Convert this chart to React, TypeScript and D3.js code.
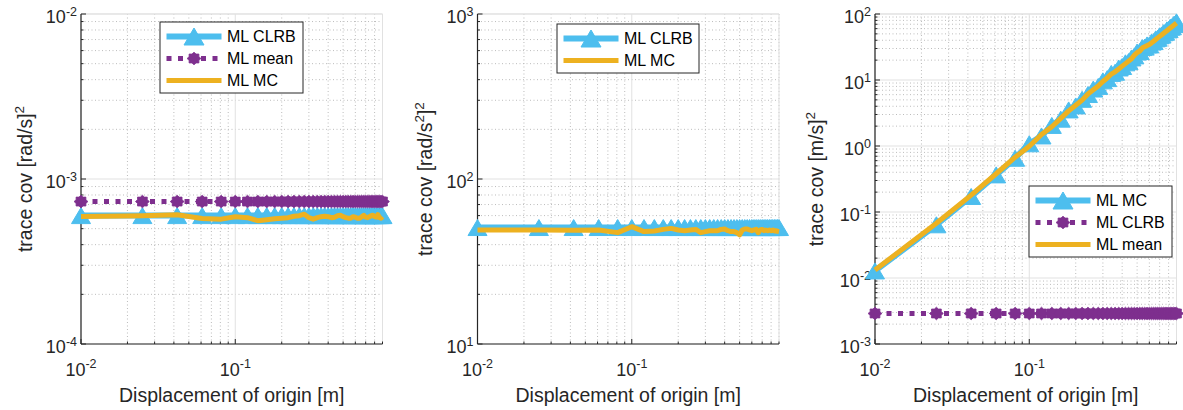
import React from 'react';
import * as d3 from 'd3';

// ---------- data ----------
const xVals = [0.01, 0.025, 0.042, 0.061, 0.081, 0.1, 0.12, 0.14, 0.16, 0.18, 0.2, 0.22, 0.24, 0.26, 0.28, 0.3, 0.32, 0.34, 0.36, 0.38, 0.4, 0.42, 0.44, 0.46, 0.48, 0.5, 0.52, 0.54, 0.56, 0.58, 0.6, 0.62, 0.64, 0.66, 0.68, 0.7, 0.72, 0.74, 0.76, 0.78, 0.8, 0.82, 0.84, 0.86, 0.88, 0.9];

const p1Clrb = [6.0e-4, 6.0e-4, 6.0e-4, 6.0e-4, 6.0e-4, 6.0e-4, 6.0e-4, 6.0e-4, 6.0e-4, 6.0e-4, 6.0e-4, 6.0e-4, 6.0e-4, 6.0e-4, 6.0e-4, 6.0e-4, 6.0e-4, 6.0e-4, 6.0e-4, 6.0e-4, 6.0e-4, 6.0e-4, 6.0e-4, 6.0e-4, 6.0e-4, 6.0e-4, 6.0e-4, 6.0e-4, 6.0e-4, 6.0e-4, 6.0e-4, 6.0e-4, 6.0e-4, 6.0e-4, 6.0e-4, 6.0e-4, 6.0e-4, 6.0e-4, 6.0e-4, 6.0e-4, 6.0e-4, 6.0e-4, 6.0e-4, 6.0e-4, 6.0e-4, 6.0e-4];
const p1Mean = [7.3e-4, 7.3e-4, 7.3e-4, 7.3e-4, 7.3e-4, 7.3e-4, 7.3e-4, 7.3e-4, 7.3e-4, 7.3e-4, 7.3e-4, 7.3e-4, 7.3e-4, 7.3e-4, 7.3e-4, 7.3e-4, 7.3e-4, 7.3e-4, 7.3e-4, 7.3e-4, 7.3e-4, 7.3e-4, 7.3e-4, 7.3e-4, 7.3e-4, 7.3e-4, 7.3e-4, 7.3e-4, 7.3e-4, 7.3e-4, 7.3e-4, 7.3e-4, 7.3e-4, 7.3e-4, 7.3e-4, 7.3e-4, 7.3e-4, 7.3e-4, 7.3e-4, 7.3e-4, 7.3e-4, 7.3e-4, 7.3e-4, 7.3e-4, 7.3e-4, 7.3e-4];
const p1Mc = [5.93e-4, 5.99e-4, 6.08e-4, 5.77e-4, 5.71e-4, 5.91e-4, 5.83e-4, 5.59e-4, 5.67e-4, 5.75e-4, 5.79e-4, 5.83e-4, 5.95e-4, 5.99e-4, 6.12e-4, 5.83e-4, 5.71e-4, 5.83e-4, 5.91e-4, 5.95e-4, 5.91e-4, 5.83e-4, 5.87e-4, 5.99e-4, 6.03e-4, 5.91e-4, 5.83e-4, 5.79e-4, 5.79e-4, 5.91e-4, 5.87e-4, 5.79e-4, 5.79e-4, 5.91e-4, 6.03e-4, 5.87e-4, 5.83e-4, 5.91e-4, 5.99e-4, 6.03e-4, 5.91e-4, 5.87e-4, 6.08e-4, 5.83e-4, 5.79e-4, 5.91e-4];

const p2Clrb = [50.8, 50.8, 50.8, 50.8, 50.8, 50.8, 50.8, 50.8, 50.8, 50.8, 50.8, 50.8, 50.8, 50.8, 50.8, 50.8, 50.8, 50.8, 50.8, 50.8, 50.8, 50.8, 50.8, 50.8, 50.8, 50.8, 50.8, 50.8, 50.8, 50.8, 50.8, 50.8, 50.8, 50.8, 50.8, 50.8, 50.8, 50.8, 50.8, 50.8, 50.8, 50.8, 50.8, 50.8, 50.8, 50.8];
const p2Mc = [49.1, 49.1, 48.9, 49.1, 47.3, 51.4, 48.0, 48.4, 49.5, 50.2, 49.1, 48.6, 49.1, 49.5, 47.3, 48.0, 48.6, 48.6, 48.6, 49.5, 49.8, 48.6, 48.0, 48.0, 47.3, 45.8, 49.1, 49.8, 49.8, 49.1, 48.6, 49.1, 49.5, 47.3, 49.1, 49.5, 48.6, 49.1, 48.6, 49.1, 48.6, 49.1, 48.4, 48.6, 48.2, 48.0];

const p3Mc = [0.0128, 0.064, 0.172, 0.365, 0.652, 1.08, 1.42, 2.05, 2.55, 3.52, 4.05, 5.1, 6.02, 7.3, 8.0, 9.7, 10.5, 12.6, 13.1, 15.2, 16.0, 18.2, 19.0, 21.6, 23.2, 26.5, 27.0, 31.0, 31.5, 34.0, 34.0, 37.5, 38.2, 42.0, 43.0, 46.8, 48.0, 52.0, 53.0, 57.5, 58.0, 63.0, 64.0, 69.0, 70.5, 76.0];
const p3Clrb = [0.0029, 0.0029, 0.0029, 0.0029, 0.0029, 0.0029, 0.0029, 0.0029, 0.0029, 0.0029, 0.0029, 0.0029, 0.0029, 0.0029, 0.0029, 0.0029, 0.0029, 0.0029, 0.0029, 0.0029, 0.0029, 0.0029, 0.0029, 0.0029, 0.0029, 0.0029, 0.0029, 0.0029, 0.0029, 0.0029, 0.0029, 0.0029, 0.0029, 0.0029, 0.0029, 0.0029, 0.0029, 0.0029, 0.0029, 0.0029, 0.0029, 0.0029, 0.0029, 0.0029, 0.0029, 0.0029];
const p3Mean = [0.0132, 0.0676, 0.18, 0.38, 0.676, 0.989, 1.49, 1.96, 2.62, 3.4, 4.14, 4.95, 6.15, 7.09, 8.1, 9.48, 10.7, 12.3, 13.3, 14.7, 16.2, 17.7, 19.3, 21.0, 23.8, 26.0, 27.5, 30.5, 32.0, 33.2, 34.5, 36.5, 38.7, 41.0, 43.4, 45.8, 48.2, 50.7, 53.3, 55.9, 58.6, 61.4, 64.2, 67.1, 70.0, 73.0];

const xDomain = [0.01, 0.9];
const p1YDomain = [1e-4, 1e-2];
const p2YDomain = [1e1, 1e3];
const p3YDomain = [1e-3, 1e2];

const p1Names = ['ML CLRB', 'ML mean', 'ML MC'];
const p2Names = ['ML CLRB', 'ML MC'];
const p3Names = ['ML MC', 'ML CLRB', 'ML mean'];

const xLabel = 'Displacement of origin [m]';
const p1YLabel: [string, boolean][] = [['trace cov [rad/s]', false], ['2', true]];
const p2YLabel: [string, boolean][] = [['trace cov [rad/s', false], ['2', true], [']', false], ['2', true]];
const p3YLabel: [string, boolean][] = [['trace cov [m/s]', false], ['2', true]];

// ---------- styles ----------
const BLUE = '#4DBEEE';
const PURPLE = '#7E2F8E';
const YELLOW = '#EDB120';
const AXIS = '#262626';
const FONT = '"Liberation Sans", Arial, Helvetica, sans-serif';

const TOP = 14;
const BOTTOM = 344;
const W = 301.5;

type Kind = 'tri' | 'star' | 'solid';
type Series = { name: string; values: number[]; kind: Kind };
type Cfg = {
  left: number;
  yDomain: number[];
  yLabel: [string, boolean][];
  yLabelX: number;
  legend: { x: number; y: number; w: number };
  series: Series[];
};

const panels: Cfg[] = [
  {
    left: 81,
    yDomain: p1YDomain,
    yLabel: p1YLabel,
    yLabelX: 32,
    legend: { x: 160, y: 22, w: 143 },
    series: [
      { name: p1Names[0], values: p1Clrb, kind: 'tri' },
      { name: p1Names[1], values: p1Mean, kind: 'star' },
      { name: p1Names[2], values: p1Mc, kind: 'solid' },
    ],
  },
  {
    left: 477.5,
    yDomain: p2YDomain,
    yLabel: p2YLabel,
    yLabelX: 432,
    legend: { x: 557, y: 24, w: 142 },
    series: [
      { name: p2Names[0], values: p2Clrb, kind: 'tri' },
      { name: p2Names[1], values: p2Mc, kind: 'solid' },
    ],
  },
  {
    left: 875,
    yDomain: p3YDomain,
    yLabel: p3YLabel,
    yLabelX: 823,
    legend: { x: 1029, y: 186, w: 143 },
    series: [
      { name: p3Names[0], values: p3Mc, kind: 'tri' },
      { name: p3Names[1], values: p3Clrb, kind: 'star' },
      { name: p3Names[2], values: p3Mean, kind: 'solid' },
    ],
  },
];

const isMajor = (t: number) => Math.abs(Math.log10(t) - Math.round(Math.log10(t))) < 1e-9;

function triPath(cx: number, cy: number, w: number, h: number) {
  return `M${cx},${cy - h / 2}L${cx + w / 2},${cy + h / 2}L${cx - w / 2},${cy + h / 2}Z`;
}
function starPath(cx: number, cy: number, ro: number, ri: number) {
  const pts: string[] = [];
  for (let i = 0; i < 16; i++) {
    const a = (Math.PI * i) / 8 - Math.PI / 2;
    const r = i % 2 === 0 ? ro : ri;
    pts.push(`${cx + r * 1.1 * Math.cos(a)},${cy + r * Math.sin(a)}`);
  }
  return 'M' + pts.join('L') + 'Z';
}

function Marker({ kind, cx, cy, legend }: { kind: Kind; cx: number; cy: number; legend?: boolean }) {
  if (kind === 'tri') {
    return <path d={triPath(cx, cy, legend ? 20 : 19, legend ? 17 : 16)} fill={BLUE} stroke={BLUE} strokeWidth={1} />;
  }
  if (kind === 'star') {
    return <path d={starPath(cx, cy, 6.3, 4.8)} fill={PURPLE} stroke={PURPLE} strokeWidth={0.8} />;
  }
  return null;
}

function seriesStroke(kind: Kind) {
  if (kind === 'tri') return { stroke: BLUE, strokeWidth: 6, dash: undefined as string | undefined };
  if (kind === 'star') return { stroke: PURPLE, strokeWidth: 5, dash: '5 6.5' };
  return { stroke: YELLOW, strokeWidth: 5, dash: undefined };
}

function Sup({ parts, supSize }: { parts: [string, boolean][]; supSize: number }) {
  const out: React.ReactNode[] = [];
  let raised = false;
  parts.forEach(([t, sup], i) => {
    if (sup && !raised) {
      out.push(<tspan key={i} dy={-8} fontSize={supSize}>{t}</tspan>);
      raised = true;
    } else if (!sup && raised) {
      out.push(<tspan key={i} dy={8}>{t}</tspan>);
      raised = false;
    } else {
      out.push(<tspan key={i} fontSize={sup ? supSize : undefined}>{t}</tspan>);
    }
  });
  return <>{out}</>;
}

function Panel({ cfg }: { cfg: Cfg }) {
  const x = d3.scaleLog().domain(xDomain).range([cfg.left, cfg.left + W]);
  const y = d3.scaleLog().domain(cfg.yDomain).range([BOTTOM, TOP]);
  const xt = x.ticks();
  const yt = y.ticks();
  const right = cfg.left + W;

  const line = d3
    .line<number>()
    .x((_, i) => x(xVals[i]))
    .y((v) => y(v));

  const lg = cfg.legend;
  const rowH = 22;
  const lh = cfg.series.length * rowH + 5;

  return (
    <g>
      {/* minor grid */}
      {xt.filter((t) => !isMajor(t)).map((t, i) => (
        <line key={'xm' + i} x1={x(t)} x2={x(t)} y1={TOP} y2={BOTTOM} stroke="#bcbcbc" strokeWidth={1} strokeDasharray="1 2.5" />
      ))}
      {yt.filter((t) => !isMajor(t)).map((t, i) => (
        <line key={'ym' + i} x1={cfg.left} x2={right} y1={y(t)} y2={y(t)} stroke="#bcbcbc" strokeWidth={1} strokeDasharray="1 2.5" />
      ))}
      {/* major grid */}
      {xt.filter((t) => isMajor(t)).map((t, i) => (
        <line key={'xM' + i} x1={x(t)} x2={x(t)} y1={TOP} y2={BOTTOM} stroke="#e1e1e1" strokeWidth={1} />
      ))}
      {yt.filter((t) => isMajor(t)).map((t, i) => (
        <line key={'yM' + i} x1={cfg.left} x2={right} y1={y(t)} y2={y(t)} stroke="#e1e1e1" strokeWidth={1} />
      ))}
      <line x1={right} x2={right} y1={TOP} y2={BOTTOM} stroke="#e1e1e1" strokeWidth={1} />
      <line x1={cfg.left} x2={right} y1={TOP} y2={TOP} stroke="#e1e1e1" strokeWidth={1} />

      {/* axes */}
      <line x1={cfg.left} x2={cfg.left} y1={TOP} y2={BOTTOM} stroke={AXIS} strokeWidth={1.2} />
      <line x1={cfg.left} x2={right} y1={BOTTOM} y2={BOTTOM} stroke={AXIS} strokeWidth={1.2} />
      {yt.map((t, i) => (
        <line key={'yt' + i} x1={cfg.left} x2={cfg.left + (isMajor(t) ? 5 : 2.5)} y1={y(t)} y2={y(t)} stroke={AXIS} strokeWidth={1} />
      ))}
      {xt.map((t, i) => (
        <line key={'xt' + i} x1={x(t)} x2={x(t)} y1={BOTTOM} y2={BOTTOM - (isMajor(t) ? 5 : 2.5)} stroke={AXIS} strokeWidth={1} />
      ))}

      {/* tick labels */}
      {yt.filter(isMajor).map((t, i) => (
        <text key={'yl' + i} x={cfg.left - 4} y={y(t) + 9} textAnchor="end" fontSize={18} fill={AXIS} fontFamily={FONT}>
          10<tspan dy={-7.5} fontSize={12.5}>{String(Math.round(Math.log10(t)))}</tspan>
        </text>
      ))}
      {xt.filter(isMajor).map((t, i) => (
        <text key={'xl' + i} x={x(t)} y={375.5} textAnchor="middle" fontSize={18} fill={AXIS} fontFamily={FONT}>
          10<tspan dy={-7.5} fontSize={12.5}>{String(Math.round(Math.log10(t)))}</tspan>
        </text>
      ))}

      {/* axis labels */}
      <text x={(cfg.left + right) / 2} y={401.5} textAnchor="middle" fontSize={19.5} fill={AXIS} fontFamily={FONT}>
        {xLabel}
      </text>
      <text
        transform={`translate(${cfg.yLabelX},${(TOP + BOTTOM) / 2}) rotate(-90)`}
        textAnchor="middle"
        fontSize={19.5}
        fill={AXIS}
        fontFamily={FONT}
      >
        <Sup parts={cfg.yLabel} supSize={13.5} />
      </text>

      {/* series */}
      {cfg.series.map((s, si) => {
        const st = seriesStroke(s.kind);
        return (
          <g key={'s' + si}>
            <path d={line(s.values) || ''} fill="none" stroke={st.stroke} strokeWidth={st.strokeWidth} strokeDasharray={st.dash} strokeLinejoin="round" />
            {s.values.map((v, i) => (
              <Marker key={i} kind={s.kind} cx={x(xVals[i])} cy={y(v)} />
            ))}
          </g>
        );
      })}

      {/* legend */}
      <rect x={lg.x} y={lg.y} width={lg.w} height={lh} fill="#ffffff" stroke={AXIS} strokeWidth={1} />
      {cfg.series.map((s, si) => {
        const st = seriesStroke(s.kind);
        const cy = lg.y + 14.5 + si * rowH;
        const x0 = lg.x + 6.5;
        const x1 = lg.x + 61.5;
        return (
          <g key={'l' + si}>
            <line x1={x0} x2={x1} y1={cy} y2={cy} stroke={st.stroke} strokeWidth={st.strokeWidth} strokeDasharray={st.dash} />
            <Marker kind={s.kind} cx={(x0 + x1) / 2} cy={cy} legend />
            <text x={lg.x + 67} y={cy + 5.8} fontSize={16} fill="#000" fontFamily={FONT}>
              {s.name}
            </text>
          </g>
        );
      })}
    </g>
  );
}

export default function App() {
  return (
    <svg
      width={1183}
      height={410}
      viewBox="0 0 1183 410"
      style={{ position: 'absolute', left: 0, top: 0, background: '#fff' }}
    >
      <rect x={0} y={0} width={1183} height={410} fill="#fff" />
      {panels.map((p, i) => (
        <Panel key={i} cfg={p} />
      ))}
    </svg>
  );
}
